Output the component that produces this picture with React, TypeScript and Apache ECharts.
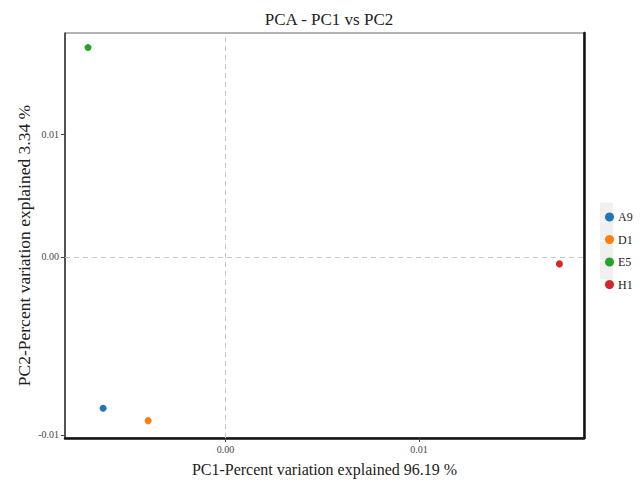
import React, { useEffect, useRef } from "react";
import * as echarts from "echarts";

const samples = ["A9", "D1", "E5", "H1"];
const colors = ["#1f77b4", "#ff7f0e", "#2ca02c", "#d62728"];
const pc1 = [-0.00633, -0.004, -0.00711, 0.01726];
const pc2 = [-0.01237, -0.01338, 0.01711, -0.00057];
const xTicks = [0, 0.01];
const yTicks = [-0.01455, 0, 0.01];

const FONT = "Liberation Serif, Times New Roman, serif";

export default function App() {
  const ref = useRef<HTMLDivElement>(null);
  useEffect(() => {
    if (!ref.current) return;
    const chart = echarts.init(ref.current, null, { renderer: "svg" });
    const series: any[] = samples.map((s, i) => ({
      name: s,
      type: "scatter",
      symbol: "circle",
      symbolSize: 7,
      itemStyle: { color: colors[i], opacity: 1 },
      data: [[pc1[i], pc2[i]]],
      z: 5,
    }));
    series.push({
      type: "scatter",
      data: [],
      silent: true,
      markLine: {
        silent: true,
        symbol: "none",
        label: { show: false },
        lineStyle: { color: "#c8c8c8", type: [5, 4], width: 1 },
        data: [{ xAxis: 0 }, { yAxis: 0 }],
      },
    });
    chart.setOption({
      animation: false,
      backgroundColor: "#fff",
      title: {
        text: "PCA - PC1 vs PC2",
        left: 324,
        textAlign: "center",
        top: 6,
        textStyle: { fontFamily: FONT, fontSize: 17, fontWeight: "normal", color: "#222" },
      },
      grid: {
        left: 65,
        right: 56,
        top: 33,
        bottom: 42,
        show: true,
        borderColor: "#666",
        borderWidth: 1,
        containLabel: false,
        outerBoundsMode: "none",
      },
      legend: {
        orient: "vertical",
        left: 600,
        top: 206,
        itemWidth: 9,
        itemHeight: 9,
        itemGap: 10.5,
        icon: "circle",
        data: samples,
        textStyle: { fontFamily: FONT, fontSize: 12, color: "#222", padding: [0, 0, 0, -1] },
      },
      graphic: samples.map((s, i) => ({
        type: "rect",
        shape: { x: 600, y: 202.5 + i * 19.5, width: 13, height: 18.5 },
        style: { fill: "#f0f0f0" },
        z: -1,
      })),
      xAxis: {
        type: "value",
        min: -0.0083,
        max: 0.01853,
        name: "PC1-Percent variation explained 96.19 %",
        nameLocation: "middle",
        nameGap: 23,
        nameTextStyle: { fontFamily: FONT, fontSize: 16, color: "#222" },
        axisLine: { show: true, onZero: false, lineStyle: { color: "#111", width: 2.5 } },
        axisTick: { show: true, length: 4, lineStyle: { color: "#444" }, customValues: xTicks },
        axisLabel: {
          customValues: xTicks,
          formatter: (v: number) => v.toFixed(2),
          fontFamily: FONT,
          fontSize: 10,
          color: "#444",
          margin: 6,
        },
        splitLine: { show: false },
      },
      yAxis: [
        {
          type: "value",
          min: -0.0148,
          max: 0.0183,
          name: "PC2-Percent variation explained 3.34 %",
          nameLocation: "middle",
          nameGap: 32,
          nameMoveOverlap: false,
          nameTextStyle: { fontFamily: FONT, fontSize: 17.5, color: "#222", padding: [0, 20, 0, 0] },
          axisLine: { show: true, onZero: false, lineStyle: { color: "#333", width: 1.5 } },
          axisTick: { show: true, length: 4, lineStyle: { color: "#444" }, customValues: yTicks },
          axisLabel: {
            customValues: yTicks,
            formatter: (v: number) => v.toFixed(2),
            fontFamily: FONT,
            fontSize: 10,
            color: "#444",
            margin: 6,
          },
          splitLine: { show: false },
        },
        {
          type: "value",
          position: "right",
          min: -0.0148,
          max: 0.0183,
          axisLine: { show: true, onZero: false, lineStyle: { color: "#111", width: 2.5 } },
          axisTick: { show: false },
          axisLabel: { show: false },
          splitLine: { show: false },
        },
      ],
      series,
    });
    return () => chart.dispose();
  }, []);
  return <div ref={ref} style={{ width: 640, height: 480, position: "absolute", left: 0, top: 0 }} />;
}
